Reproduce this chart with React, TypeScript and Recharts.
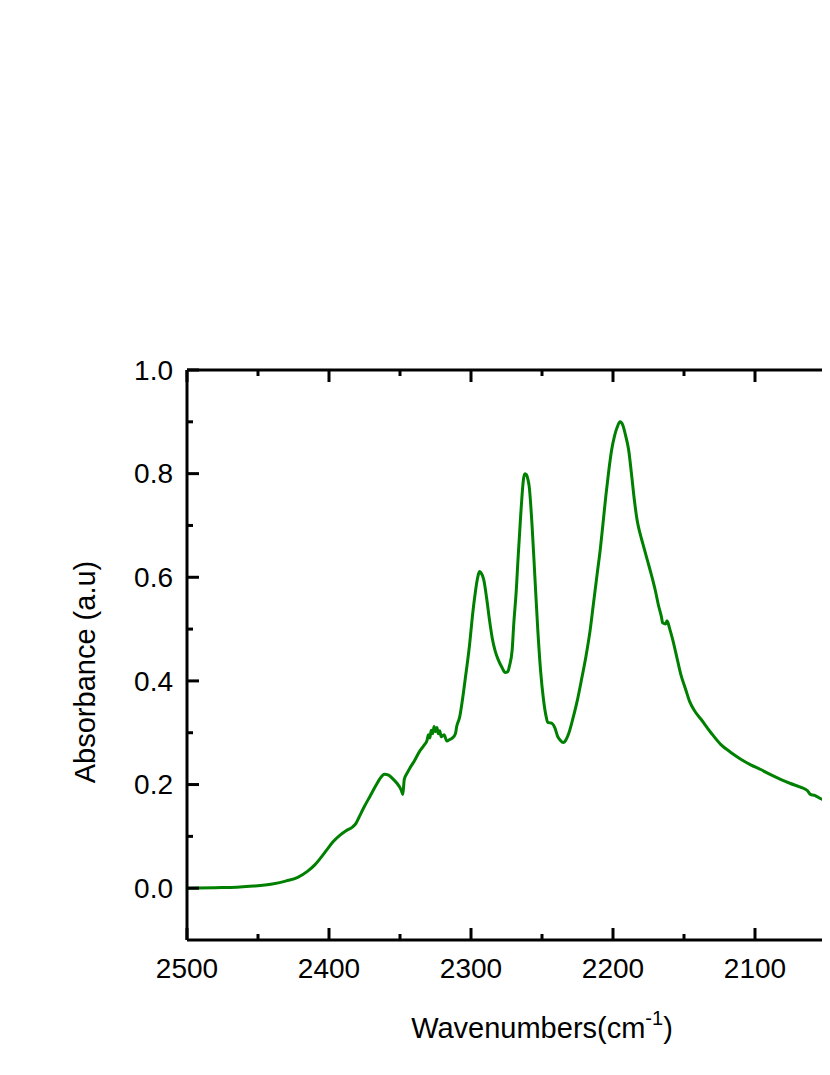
import { LineChart, Line, XAxis, YAxis, Label } from "recharts";

// wavenumber (cm-1)
const WAVENUMBERS = [
  2500, 2480, 2465, 2453, 2440, 2430, 2422, 2415, 2410, 2406, 2401, 2397,
  2392, 2388, 2384, 2381, 2379, 2375, 2371, 2367, 2364, 2361, 2358, 2355,
  2352, 2350, 2349, 2348, 2347, 2345, 2343, 2340, 2336, 2333, 2331, 2330,
  2329, 2328, 2327, 2326, 2325, 2324, 2323, 2322, 2321, 2319, 2317, 2315,
  2313, 2311, 2310, 2308, 2306, 2304, 2301, 2299, 2297, 2296, 2295, 2294,
  2293, 2291, 2289, 2287, 2285, 2283, 2281, 2278, 2276, 2274, 2273, 2271,
  2270, 2268, 2267, 2265, 2264, 2263, 2262, 2261, 2260, 2259, 2257, 2255,
  2253, 2251, 2249, 2247, 2246, 2244, 2243, 2241, 2239, 2237, 2235, 2233,
  2231, 2228, 2225, 2222, 2219, 2216, 2214, 2211, 2209, 2207, 2205, 2203,
  2201, 2199, 2197, 2195, 2193, 2191, 2189, 2187, 2185, 2183, 2181, 2179,
  2176, 2173, 2170, 2168, 2166, 2165, 2163, 2162, 2160, 2158, 2155, 2152,
  2149, 2146, 2142, 2138, 2131, 2124, 2117, 2110, 2103, 2096, 2089, 2082,
  2075, 2068, 2063, 2061, 2058, 2054, 2047, 2040, 2030, 2015, 2000,
];

const ABSORBANCE = [
  0.0, 0.001, 0.002, 0.004, 0.008, 0.014, 0.021, 0.033, 0.045, 0.058, 0.076,
  0.09, 0.103, 0.111, 0.117, 0.125, 0.136, 0.158, 0.178, 0.198, 0.212, 0.22,
  0.218, 0.211, 0.202, 0.194, 0.188, 0.181, 0.21, 0.222, 0.232, 0.245, 0.265,
  0.276, 0.285, 0.296, 0.29, 0.305, 0.298, 0.312, 0.302, 0.31, 0.298, 0.304,
  0.292, 0.296, 0.284, 0.287, 0.29, 0.298, 0.313, 0.33, 0.364, 0.405, 0.47,
  0.525, 0.57, 0.589, 0.603, 0.611, 0.609, 0.595, 0.56, 0.518, 0.482, 0.458,
  0.442, 0.425, 0.416, 0.418, 0.428, 0.46, 0.505, 0.58, 0.63, 0.72, 0.76,
  0.79, 0.8, 0.798, 0.79, 0.775, 0.7, 0.6, 0.5, 0.42, 0.365, 0.33, 0.32,
  0.319, 0.318, 0.31, 0.293, 0.285, 0.281, 0.287, 0.3, 0.33, 0.364, 0.405,
  0.448, 0.5, 0.544, 0.61, 0.653, 0.705, 0.758, 0.805, 0.845, 0.872, 0.89,
  0.9, 0.893, 0.872, 0.846, 0.8, 0.75, 0.71, 0.685, 0.665, 0.635, 0.605,
  0.572, 0.546, 0.525, 0.512, 0.51, 0.516, 0.5, 0.48, 0.445, 0.41, 0.385,
  0.36, 0.34, 0.326, 0.3, 0.277, 0.262, 0.249, 0.238, 0.229, 0.219, 0.21,
  0.202, 0.195, 0.188, 0.181, 0.179, 0.173, 0.164, 0.158, 0.151, 0.143, 0.135,
];

const X_TICKS = [2500, 2450, 2400, 2350, 2300, 2250, 2200, 2150, 2100, 2050, 2000];
const X_LABELS = [2500, 2400, 2300, 2200, 2100];
const X_MAJOR = [2500, 2400, 2300, 2200, 2100, 2000];
const Y_TICKS = [0.0, 0.1, 0.2, 0.3, 0.4, 0.5, 0.6, 0.7, 0.8, 0.9, 1.0];
const Y_LABELS = [0.0, 0.2, 0.4, 0.6, 0.8, 1.0];

const data = WAVENUMBERS.map((wn, i) => ({ wn, abs: ABSORBANCE[i] }));

const FONT = "'Liberation Sans', Arial, sans-serif";
const MAJOR = 12;
const MINOR = 6;

function XTick(props: any) {
  const { x, y, payload, side } = props;
  const v = payload.value;
  const len = X_MAJOR.includes(v) ? MAJOR : MINOR;
  const dir = side === "top" ? 1 : -1;
  return (
    <g>
      <line x1={x} x2={x} y1={y} y2={y + dir * len} stroke="#000" strokeWidth={3} />
      {side === "bottom" && X_LABELS.includes(v) && (
        <text x={x} y={y + 38} textAnchor="middle" fontSize={28} fontFamily={FONT} fill="#000">
          {v}
        </text>
      )}
    </g>
  );
}

function YTick(props: any) {
  const { x, y, payload, side } = props;
  const v = payload.value;
  const major = Y_LABELS.some((l) => Math.abs(l - v) < 1e-9);
  const len = major ? MAJOR : MINOR;
  const dir = side === "right" ? -1 : 1;
  return (
    <g>
      <line x1={x} x2={x + dir * len} y1={y} y2={y} stroke="#000" strokeWidth={3} />
      {side === "left" && major && (
        <text x={x - 14} y={y} dy="0.35em" textAnchor="end" fontSize={28} fontFamily={FONT} fill="#000">
          {v.toFixed(1)}
        </text>
      )}
    </g>
  );
}

export default function App() {
  return (
    <div style={{ width: 822, height: 1050, position: "relative" }}>
      <div style={{ position: "absolute", left: 0, top: 0, width: 830, height: 1050, overflow: "hidden" }}>
        <LineChart
          width={920}
          height={1050}
          data={data}
          margin={{ top: 360, right: 29, bottom: 58, left: 0 }}
        >
          <XAxis
            dataKey="wn"
            type="number"
            domain={[2000, 2500]}
            reversed
            ticks={X_TICKS}
            interval={0}
            height={60}
            tickSize={0}
            tickMargin={0}
            tickLine={false}
            axisLine={{ stroke: "#000", strokeWidth: 3 }}
            tick={(p: any) => <XTick {...p} side="bottom" />}
          >
            <Label
              content={(p: any) => {
                const vb = p.viewBox;
                return (
                  <text
                    x={vb.x + vb.width / 2}
                    y={vb.y + 98}
                    textAnchor="middle"
                    fontSize={29}
                    fontFamily={FONT}
                    fill="#000"
                  >
                    Wavenumbers(cm
                    <tspan dy={-13} fontSize={20}>-1</tspan>
                    <tspan dy={13}>)</tspan>
                  </text>
                );
              }}
            />
          </XAxis>
          <XAxis
            xAxisId="top"
            orientation="top"
            dataKey="wn"
            type="number"
            domain={[2000, 2500]}
            reversed
            ticks={X_TICKS}
            interval={0}
            height={2}
            tickSize={0}
            tickMargin={0}
            tickLine={false}
            axisLine={{ stroke: "#000", strokeWidth: 3 }}
            tick={(p: any) => <XTick {...p} side="top" />}
          />
          <YAxis
            type="number"
            domain={[-0.1, 1.0]}
            allowDataOverflow
            ticks={Y_TICKS}
            interval={0}
            width={179}
            tickSize={0}
            tickMargin={0}
            tickLine={false}
            axisLine={{ stroke: "#000", strokeWidth: 3 }}
            tick={(p: any) => <YTick {...p} side="left" />}
          >
            <Label
              content={(p: any) => {
                const vb = p.viewBox;
                const cx = 77;
                const cy = vb.y + vb.height / 2 + 17;
                return (
                  <text
                    x={cx}
                    y={cy}
                    dy="0.35em"
                    textAnchor="middle"
                    fontSize={29}
                    fontFamily={FONT}
                    fill="#000"
                    transform={`rotate(-90, ${cx}, ${cy})`}
                  >
                    Absorbance (a.u)
                  </text>
                );
              }}
            />
          </YAxis>
          <YAxis
            yAxisId="right"
            orientation="right"
            type="number"
            domain={[-0.1, 1.0]}
            ticks={Y_TICKS}
            interval={0}
            width={2}
            tickSize={0}
            tickMargin={0}
            tickLine={false}
            axisLine={{ stroke: "#000", strokeWidth: 3 }}
            tick={(p: any) => <YTick {...p} side="right" />}
          />
          <Line
            dataKey="abs"
            type="monotone"
            stroke="#008000"
            strokeWidth={3}
            dot={false}
            activeDot={false}
            isAnimationActive={false}
          />
        </LineChart>
      </div>
    </div>
  );
}
